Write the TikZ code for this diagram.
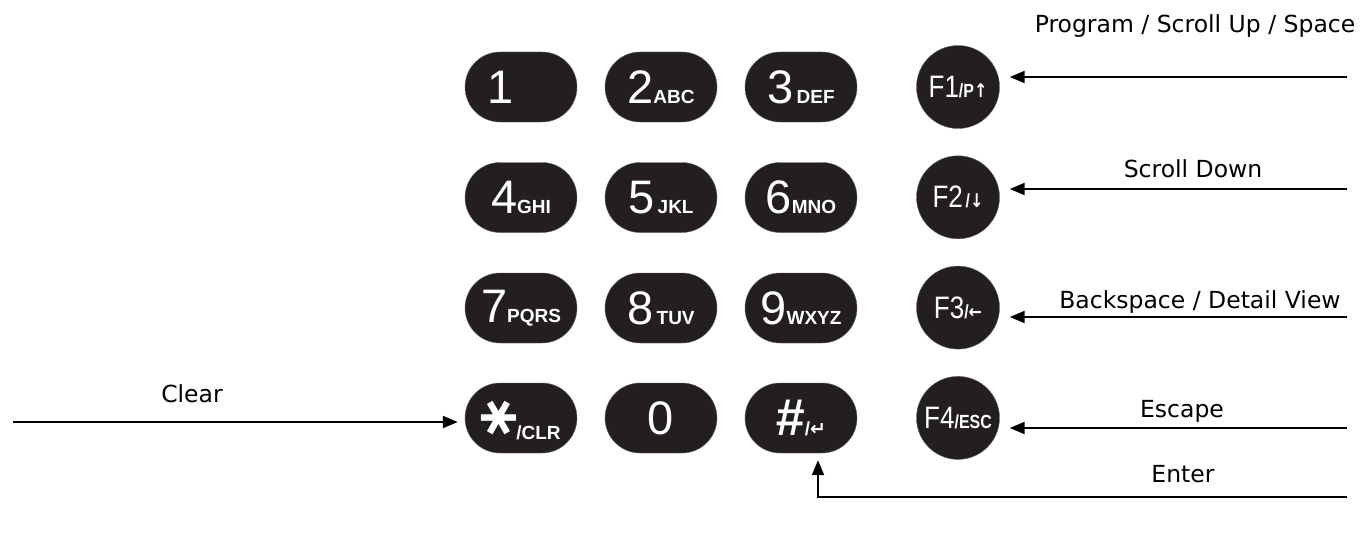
\documentclass[tikz,border=0pt]{standalone}
\usepackage{fontspec}
\setmainfont{DejaVu Sans}
\newfontfamily\keyfont{Liberation Sans}
\newfontfamily\symfont{DejaVu Sans}
\usetikzlibrary{arrows.meta}

\definecolor{keyblack}{RGB}{35,31,32}

% big digit followed by small letters on the same baseline
\newcommand{\keytext}[2]{{\fontsize{47}{47}\selectfont #1}{\bfseries\fontsize{19}{19}\selectfont #2}}
\newcommand{\fkeytext}[2]{\scalebox{0.84}[1]{{\fontsize{31}{31}\selectfont #1}{\bfseries\fontsize{19}{19}\selectfont #2}}}

\begin{document}
\begin{tikzpicture}[x=1pt, y=-1pt, >={Triangle[length=15pt,width=12pt]},
    key/.style={fill=keyblack, draw=keyblack!70, rounded corners=35pt,
      minimum width=112pt, minimum height=70pt, inner sep=0pt,
      text=white, font=\keyfont},
    fkey/.style={fill=keyblack, draw=keyblack!70, circle, minimum size=83pt,
      inner sep=0pt, text=white, font=\keyfont},
    pointer/.style={line width=2pt, ->},
    caption/.style={anchor=base, font=\fontsize{23.5}{28}\selectfont}]
  \useasboundingbox (0,0) rectangle (1364,535);

  % keypad
  \foreach \n/\l [count=\x from 0] in {1/\phantom{ABC}, 2/ABC, 3/{\,DEF}}
    \node [key] (key-\n) at (521+\x*140, 87) {\keytext{\n}{\l}};
  \foreach \n/\l [count=\x from 0] in {4/GHI, 5/{\,JKL}, 6/MNO}
    \node [key] (key-\n) at (521+\x*140, 197.5) {\keytext{\n}{\l}};
  \foreach \n/\l [count=\x from 0] in {7/PQRS, 8/{\,TUV}, 9/WXYZ}
    \node [key] (key-\n) at (521+\x*140, 308) {\keytext{\n}{\l}};
  \node [key] (key-star) at (521, 418)
    {{\symfont\bfseries\fontsize{56}{56}\selectfont\raisebox{-2pt}{\rotatebox{90}{∗}}}{\bfseries\fontsize{19}{19}\selectfont/CLR}};
  \node [key] (key-0) at (661, 418) {\fontsize{47}{47}\selectfont 0};
  \node [key] (key-hash) at (801, 418)
    {{\bfseries\itshape\fontsize{52}{52}\selectfont\#}{\bfseries\fontsize{19}{19}\selectfont/{\symfont↵}}};

  % function keys
  \foreach \m/\l [count=\y from 0] in {1/{/P{\symfont↑}}, 2/{\,/{\symfont↓}}, 3/{/{\symfont←}}, 4/{/ESC}}
    \node [fkey] (fkey-\m) at (958, 87+\y*110.3) {\fkeytext{F\m}{\l}};

  \foreach \m/\h in {1/77, 2/189, 3/317, 4/428}
    \coordinate (in-\m) at (1347, \h);
  \foreach \m in {1,...,4}
    \draw [pointer] (in-\m) -- ([xshift=10pt]fkey-\m.east |- in-\m);

  \node [caption] (cap-1) at (1195, 33) {Program / Scroll Up / Space};
  \node [caption] (cap-2) at (1193, 177) {Scroll Down};
  \node [caption] (cap-3) at (1200, 308) {Backspace / Detail View};
  \node [caption] (cap-4) at (1182, 417) {Escape};

  % clear and enter
  \coordinate (in-clear) at (13, 422);
  \draw [pointer, shorten >=7pt] (in-clear) -- (in-clear -| key-star.west);
  \node [caption] (cap-clear) at (192, 402) {Clear};

  \coordinate (in-enter) at (1347, 497);
  \draw [pointer] (in-enter) -| ([xshift=17pt, yshift=-7pt]key-hash.south);
  \node [caption] (cap-enter) at (1183, 482) {Enter};
\end{tikzpicture}
\end{document}
